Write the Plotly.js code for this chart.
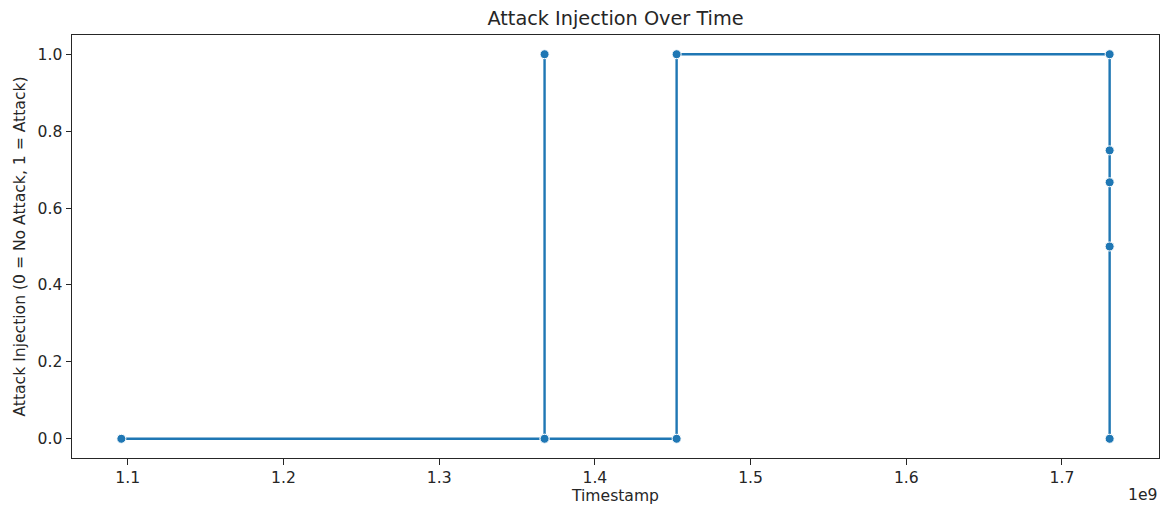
<!DOCTYPE html>
<html>
<head>
<meta charset="utf-8">
<script src="https://cdn.plot.ly/plotly-3.0.1.min.js"></script>
<style>html,body{margin:0;padding:0;background:#fff;}#chart{width:1167px;height:507px;}</style>
</head>
<body>
<div id="chart"></div>
<script>
// Timestamps (seconds) and attack injection values
const timestamps = [1.0959e9, 1.3677e9, 1.3677e9, 1.3677e9, 1.4525e9, 1.4525e9, 1.7306e9, 1.7306e9, 1.7306e9, 1.7306e9, 1.7306e9];
const attackInjection = [0, 0, 1, 0, 0, 1, 1, 0.75, 0.667, 0.5, 0];
const xTickValues = [1.1e9, 1.2e9, 1.3e9, 1.4e9, 1.5e9, 1.6e9, 1.7e9];
const xTickLabels = ["1.1", "1.2", "1.3", "1.4", "1.5", "1.6", "1.7"];
const yTickValues = [0, 0.2, 0.4, 0.6, 0.8, 1.0];

const font = "DejaVu Sans, sans-serif";
const ink = "#262626";
const fs = 15.6;

const trace = {
  x: timestamps,
  y: attackInjection,
  type: "scatter",
  mode: "lines+markers",
  line: {color: "#1f77b4", width: 2.4},
  marker: {color: "#1f77b4", size: 9, line: {color: "#ffffff", width: 1}},
  hoverinfo: "x+y"
};

const layout = {
  width: 1167,
  height: 507,
  margin: {l: 72, r: 8, t: 34.5, b: 49.3},
  paper_bgcolor: "#ffffff",
  plot_bgcolor: "#ffffff",
  showlegend: false,
  font: {family: font, size: fs, color: ink},
  title: {
    text: "Attack Injection Over Time",
    font: {family: font, size: 19.3, color: ink},
    x: 0.5, xanchor: "center", xref: "paper",
    y: 1 - 18 / 507, yanchor: "middle"
  },
  xaxis: {
    range: [1.0642e9, 1.7623e9],
    tickmode: "array",
    tickvals: xTickValues,
    ticktext: xTickLabels,
    ticks: "outside", ticklen: 5.5, tickwidth: 1, tickcolor: ink,
    showgrid: false, zeroline: false,
    showline: true, linecolor: ink, linewidth: 1, mirror: true,
    tickfont: {family: font, size: fs, color: ink},
    title: {text: "Timestamp", font: {family: font, size: fs, color: ink}, standoff: 2}
  },
  yaxis: {
    range: [-0.05, 1.05],
    tickmode: "array",
    tickvals: yTickValues,
    tickformat: ".1f",
    ticks: "outside", ticklen: 5.5, tickwidth: 1, tickcolor: ink,
    showgrid: false, zeroline: false,
    showline: true, linecolor: ink, linewidth: 1, mirror: true,
    tickfont: {family: font, size: fs, color: ink},
    title: {text: "Attack Injection (0 = No Attack, 1 = Attack)", font: {family: font, size: fs, color: ink}, standoff: 8}
  },
  annotations: [{
    text: "1e9", xref: "paper", yref: "paper", x: 1, y: (457.7 - 495) / 423.2,
    xanchor: "right", yanchor: "middle", showarrow: false,
    font: {family: font, size: fs, color: ink}
  }]
};

Plotly.newPlot("chart", [trace], layout, {displayModeBar: false, staticPlot: true});
</script>
</body>
</html>
